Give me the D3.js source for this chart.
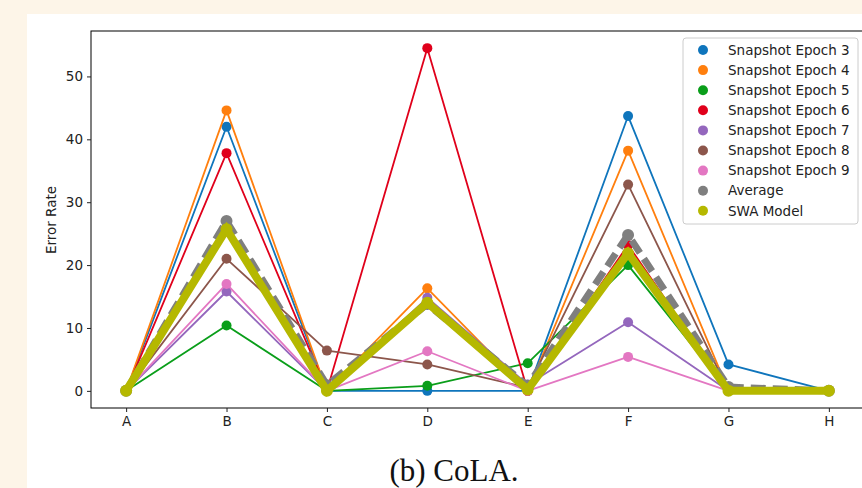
<!DOCTYPE html>
<html lang="en">
<head>
<meta charset="UTF-8">
<title>CoLA error rate</title>
<script src="https://d3js.org/d3.v7.min.js"></script>
<style>
    body { margin: 0; background: #fdf5e8; }
    svg { display: block; }
</style>
</head>
<body>
<script>
const categories = ["A", "B", "C", "D", "E", "F", "G", "H"];
const seriesNames = ["Snapshot Epoch 3", "Snapshot Epoch 4", "Snapshot Epoch 5", "Snapshot Epoch 6",
    "Snapshot Epoch 7", "Snapshot Epoch 8", "Snapshot Epoch 9", "Average", "SWA Model"];
const epoch3 = [0, 42.0, 0, 0, 0, 43.7, 4.2, 0];
const epoch4 = [0, 44.6, 0, 16.3, 0, 38.2, 0, 0];
const epoch5 = [0, 10.4, 0, 0.8, 4.4, 20.0, 0, 0];
const epoch6 = [0, 37.8, 0, 54.5, 0, 23.2, 0, 0];
const epoch7 = [0, 15.8, 0, 14.8, 1.0, 10.9, 0, 0];
const epoch8 = [0, 21.0, 6.4, 4.2, 0.5, 32.8, 0, 0];
const epoch9 = [0, 17.0, 0, 6.3, 0, 5.4, 0, 0];
const average = [0, 27.0, 0.9, 13.8, 0.8, 24.8, 0.6, 0];
const swa = [0, 25.7, 0, 14.0, 0.2, 21.9, 0, 0];
const yTicks = [0, 10, 20, 30, 40, 50];

const width = 862, height = 488;
const colors = ["#0f75bc", "#ff7f0e", "#0a9e1a", "#e0001b", "#9467bd", "#8c564b", "#e377c2", "#7f7f7f", "#b5b800"];
const allSeries = [epoch3, epoch4, epoch5, epoch6, epoch7, epoch8, epoch9, average, swa];
const fontSize = 13.5;

const svg = d3.select("body").append("svg")
    .attr("width", width)
    .attr("height", height);

// white figure panel on the cream page
svg.append("rect").attr("x", 27).attr("y", 14).attr("width", width - 27).attr("height", height - 14).attr("fill", "#fff");

const plot = { left: 91, top: 31, right: 864, bottom: 408 };
const x = d3.scaleLinear().domain([-0.35, 7.35]).range([plot.left, plot.right]);
const y = d3.scaleLinear().domain([-2.725, 57.225]).range([plot.bottom, plot.top]);

const line = d3.line().x((d, i) => x(i)).y(d => y(d));

const g = svg.append("g");

// snapshot lines
allSeries.slice(0, 7).forEach((vals, k) => {
    g.append("path").datum(vals)
        .attr("d", line)
        .attr("fill", "none")
        .attr("stroke", colors[k])
        .attr("stroke-width", 1.8)
        .attr("stroke-linejoin", "round");
    g.selectAll(null).data(vals).enter().append("circle")
        .attr("cx", (d, i) => x(i))
        .attr("cy", d => y(d))
        .attr("r", 5)
        .attr("fill", colors[k]);
});

// average, thick dashed
g.append("path").datum(average)
    .attr("d", line)
    .attr("fill", "none")
    .attr("stroke", colors[7])
    .attr("stroke-width", 7)
    .attr("stroke-dasharray", "15,7");
g.selectAll(null).data(average).enter().append("circle")
    .attr("cx", (d, i) => x(i))
    .attr("cy", d => y(d))
    .attr("r", 6)
    .attr("fill", colors[7]);

// SWA model, thickest
g.append("path").datum(swa)
    .attr("d", line)
    .attr("fill", "none")
    .attr("stroke", colors[8])
    .attr("stroke-width", 8)
    .attr("stroke-linejoin", "miter");
g.selectAll(null).data(swa).enter().append("circle")
    .attr("cx", (d, i) => x(i))
    .attr("cy", d => y(d))
    .attr("r", 6)
    .attr("fill", colors[8]);

// frame
svg.append("rect")
    .attr("x", plot.left).attr("y", plot.top)
    .attr("width", plot.right - plot.left).attr("height", plot.bottom - plot.top)
    .attr("fill", "none").attr("stroke", "#000").attr("stroke-width", 1);

const xAxis = svg.append("g")
    .attr("transform", `translate(0,${plot.bottom})`)
    .call(d3.axisBottom(x).tickValues(d3.range(categories.length)).tickFormat(i => categories[i]).tickSize(4).tickPadding(4));
const yAxis = svg.append("g")
    .attr("transform", `translate(${plot.left},0)`)
    .call(d3.axisLeft(y).tickValues(yTicks).tickSize(4).tickPadding(4));
[xAxis, yAxis].forEach(a => {
    a.select(".domain").remove();
    a.selectAll("text").attr("font-family", "DejaVu Sans").attr("font-size", fontSize).attr("fill", "#222");
    a.selectAll("line").attr("stroke", "#222");
});

svg.append("text")
    .attr("transform", `translate(56,220) rotate(-90)`)
    .attr("text-anchor", "middle")
    .attr("font-family", "DejaVu Sans")
    .attr("font-size", fontSize)
    .attr("fill", "#222")
    .text("Error Rate");

// legend
const legend = svg.append("g").attr("transform", "translate(683,38)");
legend.append("rect")
    .attr("width", 175).attr("height", 186).attr("rx", 3)
    .attr("fill", "#fff").attr("fill-opacity", 0.85)
    .attr("stroke", "#ccc");
seriesNames.forEach((name, k) => {
    const row = legend.append("g").attr("transform", `translate(0,${12 + k * 20.1})`);
    row.append("circle").attr("cx", 20).attr("cy", 0).attr("r", 5).attr("fill", colors[k]);
    row.append("text")
        .attr("x", 45).attr("y", 0).attr("dy", "0.35em")
        .attr("font-family", "DejaVu Sans").attr("font-size", fontSize).attr("fill", "#222")
        .text(name);
});

svg.append("text")
    .attr("x", 454).attr("y", 481)
    .attr("text-anchor", "middle")
    .attr("font-family", "Liberation Serif")
    .attr("font-size", 31)
    .attr("fill", "#111")
    .text("(b) CoLA.");
</script>
</body>
</html>
